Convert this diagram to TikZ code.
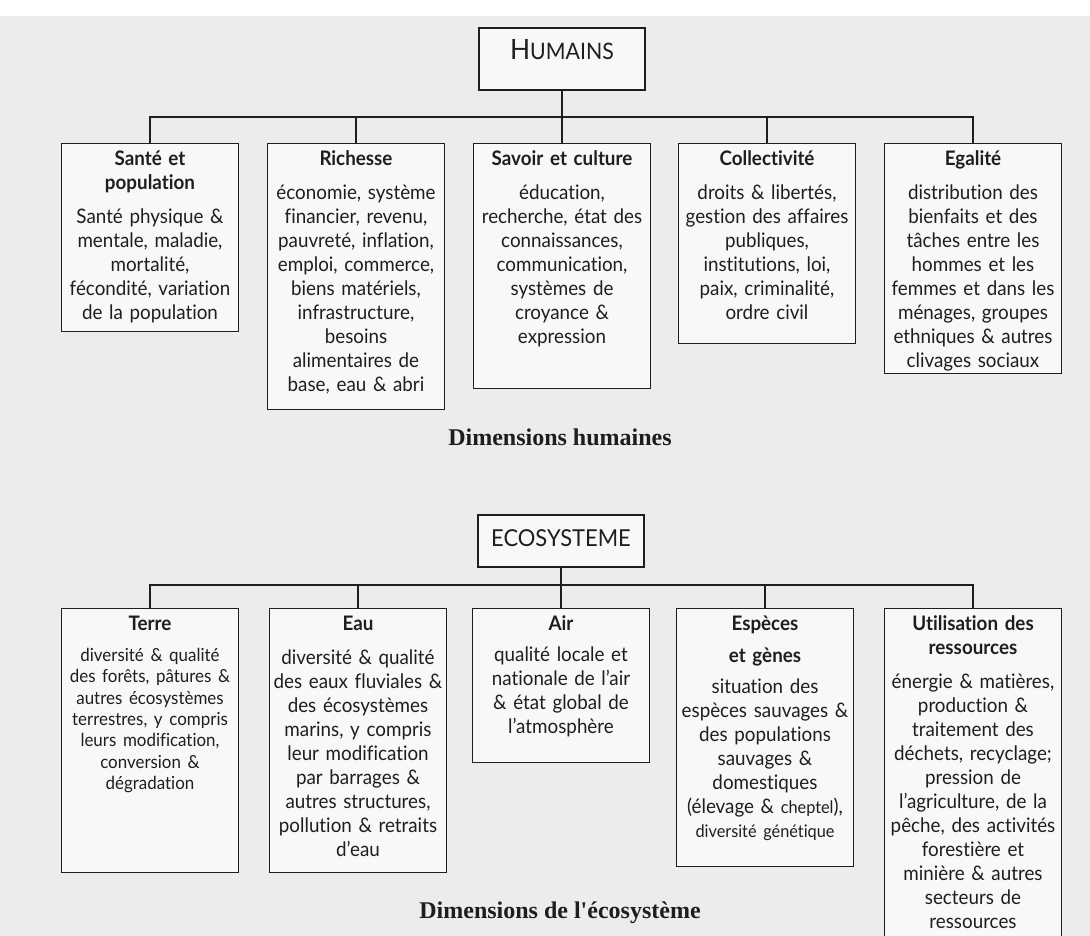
\documentclass[tikz,border=0pt]{standalone}
\usepackage{fontspec}
\setmainfont{Lato}[FakeStretch=0.94,Ligatures=NoCommon]
\newfontfamily\capfont{Liberation Serif}
\usepackage{tikz}
\usetikzlibrary{positioning}
\definecolor{PageGray}{HTML}{ECECEC}
\definecolor{BoxWhite}{HTML}{F8F8F8}
\definecolor{InkDark}{HTML}{1E1E1E}

\begin{document}
\begin{tikzpicture}[
  x=0.75pt,y=-0.75pt,
  every node/.style={text=InkDark},
  rootbox/.style={draw=InkDark,line width=1.1pt,fill=BoxWhite,
    minimum width=124.5pt,inner sep=3pt},
  dimbox/.style={draw=InkDark,line width=1.1pt,fill=BoxWhite,anchor=north,
    text width=131pt,inner xsep=0.8pt,inner ysep=4.5pt,text height=12pt,
    align=center,font=\fontsize{15}{18}\selectfont},
  caption/.style={font=\capfont\bfseries\fontsize{18}{20}\selectfont},
  link/.style={draw=InkDark,line width=1pt}
]
  \path[use as bounding box,clip] (0,0) rectangle (1090,936);
  \fill[PageGray] (0,0) rectangle (1090,936);
  \fill[white] (0,0) rectangle (1090,16);

  % humains
  \node[rootbox,minimum height=46.5pt,text height=14pt,text depth=13.5pt]
    (humains) at (562,59)
    {{\fontsize{21}{21}\selectfont H}{\fontsize{17}{17}\selectfont UMAINS}};
  \node[dimbox,text depth=120pt] (sante) at (150,143)
    {{\bfseries Santé et\\population}\\[7pt]Santé physique \&\\mentale, maladie,\\
     mortalité,\\fécondité, variation\\de la population};
  \node[dimbox,text depth=178.5pt] (richesse) at (356,143)
    {{\bfseries Richesse}\\[7pt]économie, système\\financier, revenu,\\
     pauvreté, inflation,\\emploi, commerce,\\biens matériels,\\infrastructure,\\
     besoins\\alimentaires de\\base, eau \& abri};
  \node[dimbox,text depth=162.75pt] (savoir) at (562,143)
    {{\bfseries Savoir et culture}\\[7pt]éducation,\\recherche, état des\\
     connaissances,\\communication,\\systèmes de\\croyance \&\\expression};
  \node[dimbox,text depth=129pt] (collectivite) at (767,143)
    {{\bfseries Collectivité}\\[7pt]droits \& libertés,\\gestion des affaires\\
     publiques,\\institutions, loi,\\paix, criminalité,\\ordre civil};
  \node[dimbox,text depth=151.5pt] (egalite) at (973,143)
    {{\bfseries Egalité}\\[7pt]distribution des\\bienfaits et des\\
     tâches entre les\\hommes et les\\femmes et dans les\\ménages, groupes\\
     ethniques \& autres\\clivages sociaux};
  \coordinate (hbar) at (562,117);
  \draw[link] (humains) -- (savoir);
  \draw[link] (sante.north) |- (hbar) -| (egalite.north);
  \draw[link] (richesse.north) -- (richesse.north |- hbar);
  \draw[link] (collectivite.north) -- (collectivite.north |- hbar);
  \node[caption] (humcap) at (560,437) {Dimensions humaines};

  % ecosysteme
  \node[rootbox,minimum height=39pt,text height=12.5pt,text depth=4.5pt]
    (ecosysteme) at (561,541) {\fontsize{17.5}{17.5}\selectfont ECOSYSTEME};
  \node[dimbox,text depth=177pt] (terre) at (150,608)
    {{\bfseries Terre}\\[7pt]{\fontsize{13.5}{16}\selectfont diversité \& qualité\\
     des forêts, pâtures \&\\autres écosystèmes\\terrestres, y compris\\
     leurs modification,\\conversion \&\\dégradation\par}};
  \node[dimbox,text depth=177pt] (eau) at (358,608)
    {{\bfseries Eau}\\[7pt]diversité \& qualité\\des eaux fluviales \&\\
     des écosystèmes\\marins, y compris\\leur modification\\par barrages \&\\
     autres structures,\\pollution \& retraits\\d'eau};
  \node[dimbox,text depth=94.5pt] (air) at (561,608)
    {{\bfseries Air}\\[5pt]qualité locale et\\nationale de l'air\\
     \& état global de\\l'atmosphère};
  \node[dimbox,text depth=172.5pt] (especes) at (765,608)
    {{\bfseries Espèces\\[6pt]et gènes}\\[5pt]situation des\\espèces sauvages \&\\
     des populations\\sauvages \&\\domestiques\\
     (élevage \& {\fontsize{13}{16}\selectfont cheptel}),\\
     {\fontsize{13}{16}\selectfont diversité génétique}};
  \node[dimbox,text depth=235pt] (utilisation) at (973,608)
    {{\bfseries Utilisation des\\ressources}\\[7pt]énergie \& matières,\\
     production \&\\traitement des\\déchets, recyclage;\\pression de\\
     l'agriculture, de la\\pêche, des activités\\forestière et\\
     minière \& autres\\secteurs de\\ressources};
  \coordinate (ebar) at (561,585);
  \draw[link] (ecosysteme) -- (air);
  \draw[link] (terre.north) |- (ebar) -| (utilisation.north);
  \draw[link] (eau.north) -- (eau.north |- ebar);
  \draw[link] (especes.north) -- (especes.north |- ebar);
  \node[caption] (ecocap) at (560,913) {Dimensions de l'écosystème};
\end{tikzpicture}
\end{document}
